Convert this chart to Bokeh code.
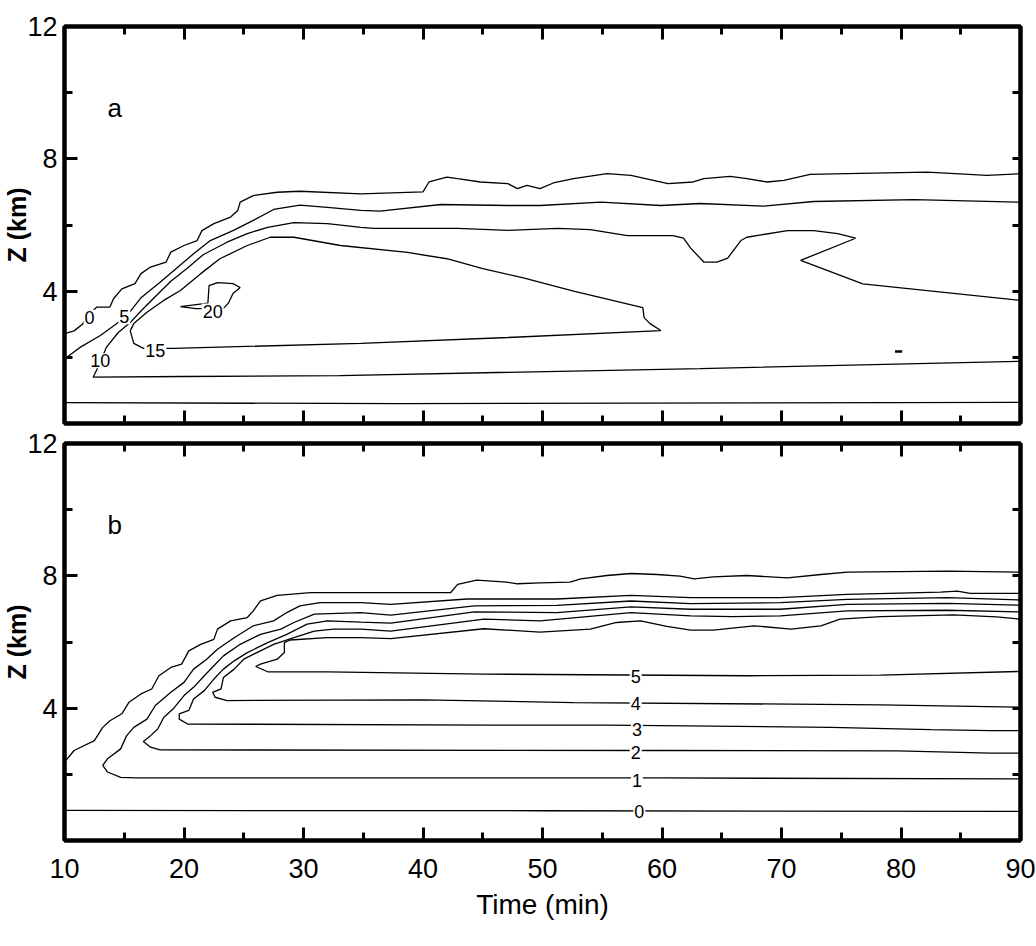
from bokeh.plotting import figure
from bokeh.models import FixedTicker, LinearAxis, Range1d
from bokeh.layouts import column
from bokeh.embed import file_html
from bokeh.resources import INLINE
from bokeh.core.properties import value

# ---------------- data (time in min, height in km) ----------------
X_MAJOR = [10, 20, 30, 40, 50, 60, 70, 80, 90]
X_MINOR = [15, 25, 35, 45, 55, 65, 75, 85]
Y_MAJOR = [4, 8, 12]
Y_MINOR = [2, 6, 10]
Y_RIGHT = [2, 4, 6, 8, 10]

# panel a contours
A0_T = [10, 10.8, 11.5, 12.1, 12.7, 13.8, 14.1, 14.8, 15.9, 16.4, 17.2, 18.5, 18.9, 20.0, 21.1,
        21.5, 22.5, 23.9, 24.5, 24.7, 25.8, 27.8, 29.7, 34.8, 40.0, 40.5, 42.0, 42.9, 44.8, 47.1,
        47.9, 48.7, 49.8, 50.9, 52.6, 55.4, 57.4, 60.5, 62.6, 63.5, 65.7, 67.1, 68.8, 70.2, 72.4,
        75.5, 82.2, 87.2, 90]
A0_Z = [2.72, 2.8, 3.0, 3.3, 3.52, 3.52, 3.77, 4.07, 4.23, 4.53, 4.73, 4.88, 5.18, 5.38, 5.53,
        5.83, 6.04, 6.24, 6.44, 6.69, 6.89, 6.99, 7.02, 6.94, 7.0, 7.3, 7.45, 7.4, 7.3, 7.25,
        7.1, 7.2, 7.1, 7.27, 7.4, 7.55, 7.5, 7.25, 7.3, 7.4, 7.47, 7.4, 7.3, 7.35, 7.53,
        7.55, 7.6, 7.5, 7.55]
A0_LOW_T = [10, 38, 90]
A0_LOW_Z = [0.63, 0.6, 0.64]

A5_T = [10, 11.3, 13.0, 14.3, 15.3, 16.4, 18.0, 19.4, 20.8, 22.2, 24.1, 25.8, 27.5, 29.7,
        32.0, 34.8, 36.4, 41.5, 47.1, 49.8, 54.9, 59.9, 63.2, 68.5, 72.7, 81.1, 90]
A5_Z = [1.95, 2.3, 2.66, 3.0, 3.3, 3.8, 4.27, 4.7, 5.13, 5.53, 5.83, 6.14, 6.47, 6.6,
        6.53, 6.44, 6.42, 6.62, 6.59, 6.59, 6.69, 6.59, 6.65, 6.57, 6.71, 6.77, 6.69]

A10_T = [90, 63.2, 33.0, 20.0, 12.4, 12.8, 13.5, 14.5, 15.5, 16.4, 17.5, 18.9, 20.3, 21.6, 23.6,
         25.3, 27.0, 29.2, 32.0, 34.8, 35.9, 42.9, 47.1, 51.3, 54.0, 57.1, 60.9, 61.8, 62.4,
         63.5, 64.6, 65.5, 66.6, 67.1, 70.5, 72.7, 74.7, 76.2, 71.6, 76.8, 90]
A10_Z = [1.88, 1.66, 1.45, 1.42, 1.4, 1.7, 2.3, 2.75, 3.05, 3.4, 3.8, 4.3, 4.7, 5.1, 5.48,
         5.74, 5.93, 6.07, 6.04, 5.93, 5.9, 5.9, 5.84, 5.9, 5.86, 5.68, 5.68, 5.6, 5.3,
         4.88, 4.88, 5.0, 5.53, 5.63, 5.83, 5.83, 5.74, 5.6, 4.93, 4.22, 3.72]

A15_T = [15.5, 15.8, 16.6, 19.1, 34.8, 47.1, 59.9, 59.0, 58.5, 58.4, 57.6, 55.5, 52.6, 48.4,
         45.0, 42.0, 38.7, 33.1, 29.2, 27.2, 25.3, 23.0, 21.4, 19.7, 18.3, 16.9, 15.8, 15.5]
A15_Z = [2.8, 2.42, 2.27, 2.27, 2.42, 2.6, 2.81, 3.02, 3.2, 3.5, 3.57, 3.75, 4.0, 4.4,
         4.68, 4.98, 5.17, 5.38, 5.63, 5.63, 5.38, 4.98, 4.53, 4.02, 3.72, 3.36, 3.02, 2.8]

A20_T = [19.7, 22.0, 22.1, 22.8, 24.1, 24.7, 24.1, 23.7, 23.3, 21.0, 19.7]
A20_Z = [3.53, 3.64, 4.17, 4.26, 4.23, 4.11, 3.93, 3.63, 3.48, 3.47, 3.53]

A_DASH_T = [79.5, 80.1]
A_DASH_Z = [2.18, 2.18]

A_LAB_T = [12.1, 15.0, 13.0, 17.6, 22.4]
A_LAB_Z = [3.21, 3.23, 1.9, 2.2, 3.4]
A_LAB_TXT = ["0", "5", "10", "15", "20"]

# panel b contours
B0_T = [10, 10.8, 12.5, 13.2, 13.8, 14.8, 15.4, 16.4, 17.3, 17.9, 18.9, 19.8, 20.4, 21.4, 22.5,
        22.8, 23.9, 25.3, 25.8, 26.4, 27.8, 30.6, 34.8, 42.3, 42.9, 44.5, 47.0, 47.9, 49.8, 52.3,
        53.2, 55.4, 57.4, 59.6, 61.5, 62.7, 64.3, 67.1, 70.5, 73.3, 75.5, 83.9, 90]
B0_Z = [2.37, 2.72, 3.02, 3.42, 3.62, 3.83, 4.18, 4.43, 4.58, 4.98, 5.23, 5.33, 5.73, 5.93, 6.08,
        6.39, 6.64, 6.74, 6.94, 7.24, 7.41, 7.49, 7.49, 7.49, 7.74, 7.87, 7.81, 7.76, 7.79, 7.81,
        7.91, 8.01, 8.07, 8.04, 7.99, 7.91, 7.97, 8.01, 7.94, 8.04, 8.11, 8.14, 8.11]
B0_LOW_T = [10, 50, 90]
B0_LOW_Z = [0.91, 0.9, 0.88]

B1_T = [90, 60, 16.0, 14.7, 13.6, 13.2, 13.6, 14.7, 15.2, 15.8, 16.9, 17.6, 18.9, 20.0, 20.8,
        21.9, 22.8, 24.2, 25.8, 27.5, 28.6, 29.7, 31.4, 34.8, 37.3, 43.7, 51.2, 57.4, 62.4,
        69.9, 75.5, 83.3, 84.7, 85.8, 90]
B1_Z = [1.86, 1.89, 1.89, 1.91, 2.07, 2.27, 2.47, 2.77, 3.17, 3.42, 3.67, 4.08, 4.48, 4.78, 5.18,
        5.48, 5.78, 6.13, 6.49, 6.64, 6.89, 7.09, 7.19, 7.19, 7.14, 7.3, 7.3, 7.41, 7.34,
        7.34, 7.44, 7.51, 7.54, 7.47, 7.47]

B2_T = [90, 87.5, 79.7, 60, 18.0, 17.2, 16.6, 17.2, 17.8, 18.3, 19.1, 20.0, 20.8, 21.7, 22.5,
        23.3, 24.7, 26.4, 28.1, 29.2, 30.9, 34.8, 37.3, 44.3, 51.2, 57.4, 62.4, 69.9, 75.5, 83.9, 90]
B2_Z = [2.64, 2.64, 2.71, 2.72, 2.74, 2.82, 2.99, 3.17, 3.37, 3.72, 3.98, 4.38, 4.63, 4.98, 5.28,
        5.58, 5.93, 6.23, 6.39, 6.59, 6.84, 6.89, 6.81, 7.09, 7.11, 7.24, 7.16, 7.19, 7.29, 7.34, 7.27]

B3_T = [90, 87.5, 82.5, 74.1, 55.4, 45.6, 20.3, 19.6, 19.6, 20.4, 20.8, 21.7, 22.5, 23.3, 24.2,
        25.3, 27.0, 28.6, 30.3, 32.0, 34.8, 37.3, 44.3, 51.2, 57.4, 62.4, 69.9, 75.5, 83.9, 90]
B3_Z = [3.32, 3.32, 3.35, 3.42, 3.49, 3.49, 3.52, 3.67, 3.83, 3.93, 4.28, 4.53, 4.88, 5.18, 5.43,
        5.68, 5.98, 6.23, 6.54, 6.64, 6.6, 6.57, 6.91, 6.89, 7.06, 6.99, 6.99, 7.14, 7.17, 7.11]

B4_T = [90, 78.3, 52.6, 40.0, 23.6, 22.6, 22.4, 23.1, 23.3, 24.2, 25.0, 26.1, 27.5, 29.2, 30.9,
        32.5, 34.8, 37.3, 45.1, 49.8, 57.4, 62.4, 65.9, 69.9, 75.5, 83.9, 90]
B4_Z = [4.03, 4.1, 4.17, 4.25, 4.23, 4.33, 4.48, 4.58, 4.93, 5.18, 5.48, 5.68, 5.93, 6.13, 6.33,
        6.39, 6.39, 6.33, 6.69, 6.64, 6.89, 6.79, 6.77, 6.79, 6.94, 6.96, 6.91]

B5_T = [90, 78.3, 67.1, 45.1, 32.0, 27.0, 26.0, 26.4, 27.8, 28.4, 28.4, 28.9, 32.0, 34.8, 37.3,
        45.1, 49.8, 54.0, 56.2, 58.2, 60.4, 62.4, 64.3, 67.7, 70.8, 73.3, 74.9, 78.3, 84.4, 88.0, 90]
B5_Z = [5.11, 5.0, 4.98, 5.03, 5.1, 5.1, 5.26, 5.33, 5.48, 5.68, 5.98, 6.06, 6.13, 6.13, 6.1,
        6.4, 6.3, 6.39, 6.59, 6.64, 6.47, 6.36, 6.36, 6.49, 6.39, 6.49, 6.69, 6.77, 6.82, 6.76, 6.69]

B_LAB_T = [57.8, 57.8, 57.9, 57.8, 57.9, 58.1]
B_LAB_Z = [4.97, 4.13, 3.37, 2.65, 1.81, 0.87]
B_LAB_TXT = ["5", "4", "3", "2", "1", "0"]

PANEL_T = [13.6]
PANEL_Z = [9.55]

SANS = "Liberation Sans"


def style_ticks(ax, maj_in, min_in):
    ax.major_tick_in = maj_in
    ax.major_tick_out = 0
    ax.minor_tick_in = min_in
    ax.minor_tick_out = 0
    ax.major_tick_line_width = 3
    ax.minor_tick_line_width = 3
    ax.axis_line_width = 4
    ax.major_tick_line_color = "black"
    ax.minor_tick_line_color = "black"
    ax.axis_line_color = "black"


def blank_labels(ax, ticks):
    ax.major_label_overrides = {t: "" for t in ticks}
    ax.major_label_text_font_size = "0px"
    ax.major_label_standoff = 0


def make_panel(letter, xlabels, top_border, bottom_border):
    p = figure(x_range=Range1d(10, 90), y_range=Range1d(0, 12),
               frame_width=956, frame_height=397,
               output_backend="svg", toolbar_location=None,
               x_axis_location=None, y_axis_location=None,
               min_border_left=64, min_border_right=16,
               min_border_top=top_border, min_border_bottom=bottom_border)
    p.grid.visible = False
    p.outline_line_color = "black"
    p.outline_line_width = 4
    p.background_fill_color = "white"
    p.border_fill_color = "white"

    # left axis
    ya = LinearAxis(ticker=FixedTicker(ticks=Y_MAJOR, minor_ticks=Y_MINOR))
    style_ticks(ya, 13, 8)
    ya.major_label_text_font = SANS
    ya.major_label_text_font_size = "27px"
    ya.major_label_text_color = "black"
    ya.major_label_standoff = 7
    ya.axis_label = "Z (km)"
    ya.axis_label_text_font = SANS
    ya.axis_label_text_font_size = "25px"
    ya.axis_label_text_font_style = "bold"
    ya.axis_label_text_color = "black"
    ya.axis_label_standoff = -7
    p.add_layout(ya, "left")

    # right axis
    yr = LinearAxis(ticker=FixedTicker(ticks=Y_RIGHT))
    style_ticks(yr, 8, 0)
    blank_labels(yr, Y_RIGHT)
    p.add_layout(yr, "right")

    # top axis
    xt = LinearAxis(ticker=FixedTicker(ticks=X_MAJOR, minor_ticks=X_MINOR))
    style_ticks(xt, 13, 8)
    blank_labels(xt, X_MAJOR)
    p.add_layout(xt, "above")

    # bottom axis
    xb = LinearAxis(ticker=FixedTicker(ticks=X_MAJOR, minor_ticks=X_MINOR))
    style_ticks(xb, 13, 8)
    if xlabels:
        xb.major_label_text_font = SANS
        xb.major_label_text_font_size = "27px"
        xb.major_label_text_color = "black"
        xb.major_label_standoff = 18
        xb.axis_label = "Time (min)"
        xb.axis_label_text_font = SANS
        xb.axis_label_text_font_size = "28px"
        xb.axis_label_text_font_style = "normal"
        xb.axis_label_text_color = "black"
        xb.axis_label_standoff = 8
    else:
        blank_labels(xb, X_MAJOR)
    p.add_layout(xb, "below")

    p.text(x=PANEL_T, y=PANEL_Z, text=[letter], text_font=value(SANS),
           text_font_size=value("26px"), text_align="left", text_baseline="alphabetic",
           text_color="black")
    return p


def contour(p, t, z, w=1.3):
    p.line(t, z, line_color="black", line_width=w)


def contour_labels(p, t, z, txt):
    p.text(x=t, y=z, text=txt, text_font=value(SANS), text_font_size=value("18px"),
           text_align="center", text_baseline="middle", text_color="black",
           background_fill_color="white", padding=1)


pa = make_panel("a", False, 26, 4)
for t, z in [(A0_T, A0_Z), (A0_LOW_T, A0_LOW_Z), (A5_T, A5_Z), (A10_T, A10_Z),
             (A15_T, A15_Z), (A20_T, A20_Z)]:
    contour(pa, t, z)
contour(pa, A_DASH_T, A_DASH_Z, 2.5)
contour_labels(pa, A_LAB_T, A_LAB_Z, A_LAB_TXT)

pb = make_panel("b", True, 16, 10)
for t, z in [(B0_T, B0_Z), (B0_LOW_T, B0_LOW_Z), (B1_T, B1_Z), (B2_T, B2_Z),
             (B3_T, B3_Z), (B4_T, B4_Z), (B5_T, B5_Z)]:
    contour(pb, t, z)
contour_labels(pb, B_LAB_T, B_LAB_Z, B_LAB_TXT)

layout = column(pa, pb, spacing=0)
open("out.html", "w").write(file_html(layout, INLINE))
